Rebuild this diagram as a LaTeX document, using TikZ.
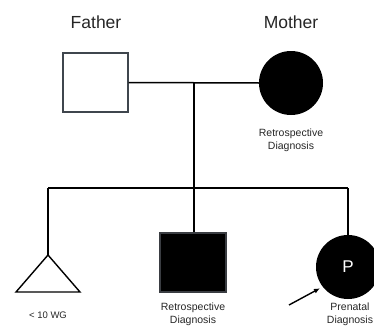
\documentclass[tikz,border=0pt]{standalone}
\usepackage{fontspec}
\setmainfont{Liberation Sans}
\usetikzlibrary{arrows.meta}
\begin{document}
\begin{tikzpicture}[x=1pt,y=-1pt,
  ln/.style={line width=1.5pt,black},
  title/.style={font=\fontsize{17.5}{20}\selectfont,text=black!85},
  lbl/.style={font=\fontsize{10.5}{13}\selectfont,align=center,text=black!85},
  male/.style={draw=black!75!cyan!60!black,line width=1.4pt,minimum width=65pt,minimum height=59pt,inner sep=0pt},
  female/.style={circle,fill=black,minimum size=64pt,inner sep=0pt}]
\useasboundingbox (0,0) rectangle (374,329);
\clip (0,0) rectangle (374,329);
\node[title] (ft) at (96,22) {Father};
\node[title] (mt) at (291,22) {Mother};
\node[male,draw=black!80!cyan,fill=white] (father) at (95.5,82.5) {};
\node[female] (mother) at (291,83) {};
\node[lbl] (ml) at (291,140) {Retrospective\\Diagnosis};
\coordinate (mid) at (194,83);
\coordinate (sib) at (194,188);
\coordinate (sl) at (48,188);
\coordinate (sr) at (348,188);
\draw[ln] (father.east) -- (mother.west);
\draw[ln] (mid) -- (sib);
\draw[ln] (sl) -- (sr);
% triangle
\coordinate (tapex) at (48,255);
\coordinate (tl) at (16,292);
\coordinate (tr) at (80,292);
\draw[line width=1.4pt] (tapex) -- (tr) -- (tl) -- cycle;
\draw[ln] (sl) -- (tapex);
\node[lbl,font=\fontsize{9.5}{11}\selectfont] (wg) at (48,315) {< 10 WG};
% black square
\node[male,fill=black,minimum width=66pt] (son) at (193,262.5) {};
\draw[ln] (sib) -- (son.north -| sib);
\node[lbl] (sl2) at (193,314) {Retrospective\\Diagnosis};
% proband
\node[female,text=white,font=\fontsize{17}{20}\selectfont] (pro) at (348,267) {P};
\draw[ln] (sr) -- (pro.north);
\node[lbl] (pl) at (350,314) {Prenatal\\Diagnosis};
\coordinate (arr) at (289,305);
\draw[line width=1.4pt,shorten >=3pt,-{Latex[length=6pt,width=5pt]}] (arr) -- (pro.218);
\end{tikzpicture}
\end{document}
